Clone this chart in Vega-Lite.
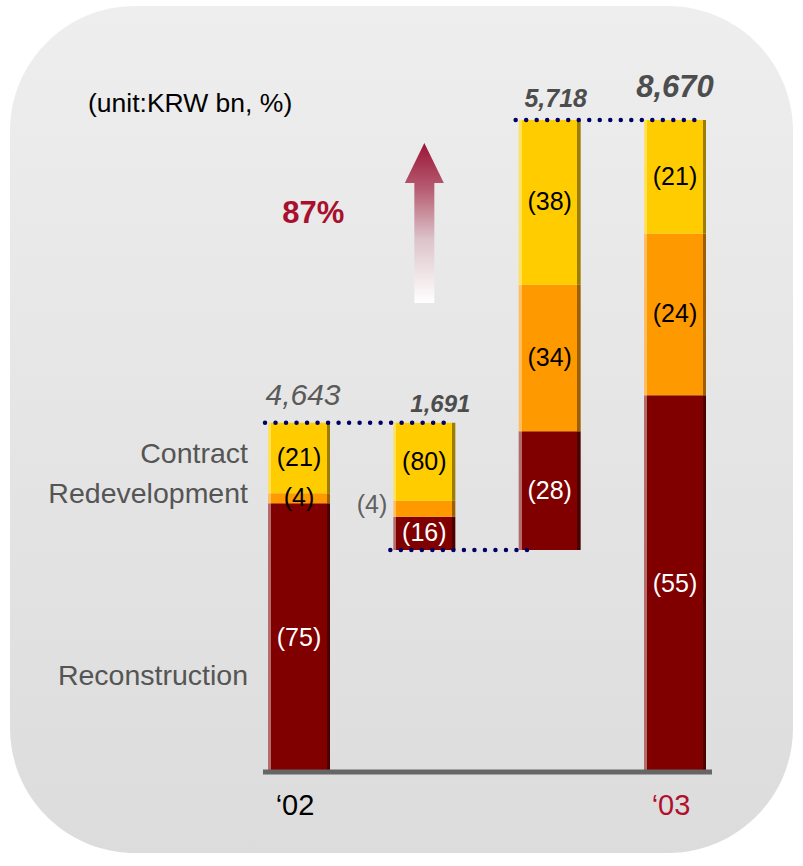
{
  "$schema": "https://vega.github.io/schema/vega-lite/v6.json",
  "width": 783,
  "height": 847,
  "autosize": {"type": "none"},
  "padding": {"left": 10, "top": 6, "right": 10, "bottom": 13},
  "background": "#ffffff",
  "title": {"text": "(unit:KRW bn, %)", "anchor": "start", "frame": "group", "orient": "top", "offset": -132, "dx": 78, "fontSize": 26.5, "fontWeight": "normal", "color": "#000000", "font": "Liberation Sans", "baseline": "alphabetic"},
  "datasets": {
    "seg": [
      {"bar": "‘02", "segment": "Reconstruction", "start": 0, "end": 3575, "label": "(75)"},
      {"bar": "‘02", "segment": "Redevelopment", "start": 3575, "end": 3705, "label": "(4)"},
      {"bar": "‘02", "segment": "Contract", "start": 3705, "end": 4643, "label": "(21)"},
      {"bar": "Decrease", "segment": "Reconstruction", "start": 2952, "end": 3393, "label": "(16)"},
      {"bar": "Decrease", "segment": "Redevelopment", "start": 3393, "end": 3608, "label": "(4)"},
      {"bar": "Decrease", "segment": "Contract", "start": 3608, "end": 4643, "label": "(80)"},
      {"bar": "Increase", "segment": "Reconstruction", "start": 2952, "end": 4530, "label": "(28)"},
      {"bar": "Increase", "segment": "Redevelopment", "start": 4530, "end": 6480, "label": "(34)"},
      {"bar": "Increase", "segment": "Contract", "start": 6480, "end": 8670, "label": "(38)"},
      {"bar": "‘03", "segment": "Reconstruction", "start": 0, "end": 5011, "label": "(55)"},
      {"bar": "‘03", "segment": "Redevelopment", "start": 5011, "end": 7161, "label": "(24)"},
      {"bar": "‘03", "segment": "Contract", "start": 7161, "end": 8670, "label": "(21)"}
    ],
    "tot": [
      {"bar": "‘02", "top": 4643, "label": "4,643"},
      {"bar": "Decrease", "top": 4643, "label": "1,691"},
      {"bar": "Increase", "top": 8670, "label": "5,718"},
      {"bar": "‘03", "top": 8670, "label": "8,670"}
    ],
    "links": [
      {"from": "‘02", "to": "Decrease", "v": 4643},
      {"from": "Decrease", "to": "Increase", "v": 2952},
      {"from": "Increase", "to": "‘03", "v": 8670}
    ],
    "anno": [
      {"bar": "Decrease", "v": 7300, "label": "87%"}
    ]
  },
  "layer": [
    {
      "data": {"name": "seg"},
      "transform": [{"filter": "datum.segment === 'Reconstruction'"}],
      "mark": {"type": "bar", "stroke": null, "fill": {"gradient": "linear", "x1": 0, "y1": 0, "x2": 1, "y2": 0, "stops": [{"offset": 0, "color": "#b36b6b"}, {"offset": 0.05, "color": "#b36b6b"}, {"offset": 0.05, "color": "#800000"}, {"offset": 0.945, "color": "#800000"}, {"offset": 0.945, "color": "#4a0000"}, {"offset": 1, "color": "#4a0000"}]}},
      "encoding": {
        "x": {"field": "bar", "type": "nominal", "axis": null, "scale": {"type": "band", "domain": ["‘02", "Decrease", "Increase", "‘03"], "range": [258, 696], "paddingInner": 0.5053, "paddingOuter": 0}},
        "y": {"field": "start", "type": "quantitative", "axis": null, "scale": {"domain": [-1077, 10185], "nice": false, "zero": false}},
        "y2": {"field": "end"}
      }
    },
    {
      "data": {"name": "seg"},
      "transform": [{"filter": "datum.segment === 'Redevelopment'"}],
      "mark": {"type": "bar", "stroke": null, "fill": {"gradient": "linear", "x1": 0, "y1": 0, "x2": 1, "y2": 0, "stops": [{"offset": 0, "color": "#ffbf60"}, {"offset": 0.05, "color": "#ffbf60"}, {"offset": 0.05, "color": "#ff9900"}, {"offset": 0.945, "color": "#ff9900"}, {"offset": 0.945, "color": "#9e5f00"}, {"offset": 1, "color": "#9e5f00"}]}},
      "encoding": {
        "x": {"field": "bar", "type": "nominal", "axis": null, "scale": {"type": "band", "domain": ["‘02", "Decrease", "Increase", "‘03"], "range": [258, 696], "paddingInner": 0.5053, "paddingOuter": 0}},
        "y": {"field": "start", "type": "quantitative", "axis": null, "scale": {"domain": [-1077, 10185], "nice": false, "zero": false}},
        "y2": {"field": "end"}
      }
    },
    {
      "data": {"name": "seg"},
      "transform": [{"filter": "datum.segment === 'Contract'"}],
      "mark": {"type": "bar", "stroke": null, "fill": {"gradient": "linear", "x1": 0, "y1": 0, "x2": 1, "y2": 0, "stops": [{"offset": 0, "color": "#ffe15c"}, {"offset": 0.05, "color": "#ffe15c"}, {"offset": 0.05, "color": "#ffcc00"}, {"offset": 0.945, "color": "#ffcc00"}, {"offset": 0.945, "color": "#9c7d00"}, {"offset": 1, "color": "#9c7d00"}]}},
      "encoding": {
        "x": {"field": "bar", "type": "nominal", "axis": null, "scale": {"type": "band", "domain": ["‘02", "Decrease", "Increase", "‘03"], "range": [258, 696], "paddingInner": 0.5053, "paddingOuter": 0}},
        "y": {"field": "start", "type": "quantitative", "axis": null, "scale": {"domain": [-1077, 10185], "nice": false, "zero": false}},
        "y2": {"field": "end"}
      }
    },
    {
      "data": {"name": "links"},
      "transform": [{"filter": "datum.from !== 'Decrease'"}],
      "mark": {"type": "rule", "stroke": "#000066", "strokeWidth": 4.5, "strokeCap": "round", "strokeDash": [0.01, 10.5], "xOffset": -3, "x2Offset": -3},
      "encoding": {
        "x": {"field": "from", "type": "nominal", "bandPosition": 0, "axis": null, "scale": {"type": "band", "domain": ["‘02", "Decrease", "Increase", "‘03"], "range": [258, 696], "paddingInner": 0.5053, "paddingOuter": 0}},
        "x2": {"field": "to", "bandPosition": 1},
        "y": {"field": "v", "type": "quantitative", "axis": null, "scale": {"domain": [-1077, 10185], "nice": false, "zero": false}}
      }
    },
    {
      "data": {"name": "links"},
      "transform": [{"filter": "datum.from === 'Decrease'"}],
      "mark": {"type": "rule", "stroke": "#000066", "strokeWidth": 4.5, "strokeCap": "round", "strokeDash": [0.01, 10.5], "xOffset": -3, "x2Offset": 9},
      "encoding": {
        "x": {"field": "from", "type": "nominal", "bandPosition": 0, "axis": null, "scale": {"type": "band", "domain": ["‘02", "Decrease", "Increase", "‘03"], "range": [258, 696], "paddingInner": 0.5053, "paddingOuter": 0}},
        "x2": {"field": "to", "bandPosition": 0},
        "y": {"field": "v", "type": "quantitative", "axis": null, "scale": {"domain": [-1077, 10185], "nice": false, "zero": false}}
      }
    },
    {
      "data": {"values": [{"from": "‘02", "to": "‘03", "v": 0}]},
      "mark": {"type": "rule", "stroke": "#666666", "strokeWidth": 5, "xOffset": -5, "x2Offset": 6},
      "encoding": {
        "x": {"field": "from", "type": "nominal", "bandPosition": 0, "axis": null, "scale": {"type": "band", "domain": ["‘02", "Decrease", "Increase", "‘03"], "range": [258, 696], "paddingInner": 0.5053, "paddingOuter": 0}},
        "x2": {"field": "to", "bandPosition": 1},
        "y": {"field": "v", "type": "quantitative", "axis": null, "scale": {"domain": [-1077, 10185], "nice": false, "zero": false}}
      }
    },
    {
      "data": {"name": "seg"},
      "transform": [{"filter": "!(datum.bar === 'Decrease' && datum.segment === 'Redevelopment')"}, {"fold": ["start", "end"], "as": ["k", "v"]}],
      "mark": {"type": "text", "fontSize": 25, "baseline": "middle", "align": "center"},
      "encoding": {
        "x": {"field": "bar", "type": "nominal", "axis": null, "scale": {"type": "band", "domain": ["‘02", "Decrease", "Increase", "‘03"], "range": [258, 696], "paddingInner": 0.5053, "paddingOuter": 0}},
        "y": {"aggregate": "mean", "field": "v", "type": "quantitative", "axis": null, "scale": {"domain": [-1077, 10185], "nice": false, "zero": false}},
        "detail": {"field": "segment", "type": "nominal"},
        "text": {"field": "label", "type": "nominal"},
        "color": {"condition": {"test": "datum.segment === 'Reconstruction'", "value": "#ffffff"}, "value": "#000000"}
      }
    },
    {
      "data": {"name": "seg"},
      "transform": [{"filter": "datum.bar === 'Decrease' && datum.segment === 'Redevelopment'"}, {"fold": ["start", "end"], "as": ["k", "v"]}],
      "mark": {"type": "text", "fontSize": 25, "baseline": "middle", "align": "right", "dx": -6, "dy": -4, "color": "#606060"},
      "encoding": {
        "x": {"field": "bar", "type": "nominal", "bandPosition": 0, "axis": null, "scale": {"type": "band", "domain": ["‘02", "Decrease", "Increase", "‘03"], "range": [258, 696], "paddingInner": 0.5053, "paddingOuter": 0}},
        "y": {"aggregate": "mean", "field": "v", "type": "quantitative", "axis": null, "scale": {"domain": [-1077, 10185], "nice": false, "zero": false}},
        "text": {"field": "label", "type": "nominal"}
      }
    },
    {
      "data": {"name": "seg"},
      "transform": [{"filter": "datum.bar === '‘02' && datum.segment !== 'Reconstruction'"}, {"fold": ["start", "end"], "as": ["k", "v"]}],
      "mark": {"type": "text", "fontSize": 28.5, "baseline": "middle", "align": "right", "dx": -20, "dy": -4, "color": "#555555"},
      "encoding": {
        "x": {"field": "bar", "type": "nominal", "bandPosition": 0, "axis": null, "scale": {"type": "band", "domain": ["‘02", "Decrease", "Increase", "‘03"], "range": [258, 696], "paddingInner": 0.5053, "paddingOuter": 0}},
        "y": {"aggregate": "mean", "field": "v", "type": "quantitative", "axis": null, "scale": {"domain": [-1077, 10185], "nice": false, "zero": false}},
        "text": {"field": "segment", "type": "nominal"}
      }
    },
    {
      "data": {"name": "seg"},
      "transform": [{"filter": "datum.bar === '‘02' && datum.segment === 'Reconstruction'"}, {"fold": ["start", "end"], "as": ["k", "v"]}],
      "mark": {"type": "text", "fontSize": 28.5, "baseline": "middle", "align": "right", "dx": -20, "dy": 38, "color": "#555555"},
      "encoding": {
        "x": {"field": "bar", "type": "nominal", "bandPosition": 0, "axis": null, "scale": {"type": "band", "domain": ["‘02", "Decrease", "Increase", "‘03"], "range": [258, 696], "paddingInner": 0.5053, "paddingOuter": 0}},
        "y": {"aggregate": "mean", "field": "v", "type": "quantitative", "axis": null, "scale": {"domain": [-1077, 10185], "nice": false, "zero": false}},
        "text": {"field": "segment", "type": "nominal"}
      }
    },
    {
      "data": {"name": "tot"},
      "transform": [{"filter": "datum.bar === '‘02'"}],
      "mark": {"type": "text", "fontSize": 30, "fontStyle": "italic", "fontWeight": "normal", "baseline": "alphabetic", "align": "center", "dx": 4, "dy": -18, "color": "#5a5a5a"},
      "encoding": {
        "x": {"field": "bar", "type": "nominal", "axis": null, "scale": {"type": "band", "domain": ["‘02", "Decrease", "Increase", "‘03"], "range": [258, 696], "paddingInner": 0.5053, "paddingOuter": 0}},
        "y": {"field": "top", "type": "quantitative", "axis": null, "scale": {"domain": [-1077, 10185], "nice": false, "zero": false}},
        "text": {"field": "label", "type": "nominal"}
      }
    },
    {
      "data": {"name": "tot"},
      "transform": [{"filter": "datum.bar === 'Decrease'"}],
      "mark": {"type": "text", "fontSize": 24, "fontStyle": "italic", "fontWeight": "bold", "baseline": "alphabetic", "align": "center", "dx": 16, "dy": -11, "color": "#4d4d4d"},
      "encoding": {
        "x": {"field": "bar", "type": "nominal", "axis": null, "scale": {"type": "band", "domain": ["‘02", "Decrease", "Increase", "‘03"], "range": [258, 696], "paddingInner": 0.5053, "paddingOuter": 0}},
        "y": {"field": "top", "type": "quantitative", "axis": null, "scale": {"domain": [-1077, 10185], "nice": false, "zero": false}},
        "text": {"field": "label", "type": "nominal"}
      }
    },
    {
      "data": {"name": "tot"},
      "transform": [{"filter": "datum.bar === 'Increase'"}],
      "mark": {"type": "text", "fontSize": 25, "fontStyle": "italic", "fontWeight": "bold", "baseline": "alphabetic", "align": "center", "dx": 6, "dy": -13, "color": "#4d4d4d"},
      "encoding": {
        "x": {"field": "bar", "type": "nominal", "axis": null, "scale": {"type": "band", "domain": ["‘02", "Decrease", "Increase", "‘03"], "range": [258, 696], "paddingInner": 0.5053, "paddingOuter": 0}},
        "y": {"field": "top", "type": "quantitative", "axis": null, "scale": {"domain": [-1077, 10185], "nice": false, "zero": false}},
        "text": {"field": "label", "type": "nominal"}
      }
    },
    {
      "data": {"name": "tot"},
      "transform": [{"filter": "datum.bar === '‘03'"}],
      "mark": {"type": "text", "fontSize": 31, "fontStyle": "italic", "fontWeight": "bold", "baseline": "alphabetic", "align": "center", "dx": 0, "dy": -23, "color": "#4d4d4d"},
      "encoding": {
        "x": {"field": "bar", "type": "nominal", "axis": null, "scale": {"type": "band", "domain": ["‘02", "Decrease", "Increase", "‘03"], "range": [258, 696], "paddingInner": 0.5053, "paddingOuter": 0}},
        "y": {"field": "top", "type": "quantitative", "axis": null, "scale": {"domain": [-1077, 10185], "nice": false, "zero": false}},
        "text": {"field": "label", "type": "nominal"}
      }
    },
    {
      "data": {"name": "tot"},
      "transform": [{"filter": "datum.bar === '‘02' || datum.bar === '‘03'"}],
      "mark": {"type": "text", "fontSize": 29, "baseline": "alphabetic", "align": "center", "dx": -4, "dy": 43},
      "encoding": {
        "x": {"field": "bar", "type": "nominal", "axis": null, "scale": {"type": "band", "domain": ["‘02", "Decrease", "Increase", "‘03"], "range": [258, 696], "paddingInner": 0.5053, "paddingOuter": 0}},
        "y": {"datum": 0, "type": "quantitative", "axis": null, "scale": {"domain": [-1077, 10185], "nice": false, "zero": false}},
        "text": {"field": "bar", "type": "nominal"},
        "color": {"condition": {"test": "datum.bar === '‘03'", "value": "#b0102e"}, "value": "#000000"}
      }
    },
    {
      "data": {"name": "anno"},
      "mark": {"type": "point", "shape": "M0,-1L0.244,-0.5L0.125,-0.5L0.125,1L-0.125,1L-0.125,-0.5L-0.244,-0.5Z", "size": 25600, "filled": true, "opacity": 1, "strokeWidth": 0, "fill": {"gradient": "linear", "x1": 0, "y1": 0, "x2": 0, "y2": 1, "stops": [{"offset": 0, "color": "#9a1538"}, {"offset": 0.28, "color": "#b65a70"}, {"offset": 0.6, "color": "#dcc3c9"}, {"offset": 1, "color": "#ffffff"}]}},
      "encoding": {
        "x": {"field": "bar", "type": "nominal", "axis": null, "scale": {"type": "band", "domain": ["‘02", "Decrease", "Increase", "‘03"], "range": [258, 696], "paddingInner": 0.5053, "paddingOuter": 0}},
        "y": {"field": "v", "type": "quantitative", "axis": null, "scale": {"domain": [-1077, 10185], "nice": false, "zero": false}}
      }
    },
    {
      "data": {"name": "anno"},
      "mark": {"type": "text", "fontSize": 31, "fontWeight": "bold", "baseline": "alphabetic", "align": "center", "dx": -80, "color": "#a8102e"},
      "encoding": {
        "x": {"field": "bar", "type": "nominal", "bandPosition": 0, "axis": null, "scale": {"type": "band", "domain": ["‘02", "Decrease", "Increase", "‘03"], "range": [258, 696], "paddingInner": 0.5053, "paddingOuter": 0}},
        "y": {"field": "v", "type": "quantitative", "axis": null, "scale": {"domain": [-1077, 10185], "nice": false, "zero": false}},
        "text": {"field": "label", "type": "nominal"}
      }
    }
  ],
  "config": {
    "view": {"stroke": null, "cornerRadius": 125, "fill": {"gradient": "linear", "x1": 0, "y1": 0, "x2": 0, "y2": 1, "stops": [{"offset": 0, "color": "#eeeeee"}, {"offset": 1, "color": "#dcdcdc"}]}},
    "text": {"font": "Liberation Sans"},
    "title": {"font": "Liberation Sans"}
  }
}
